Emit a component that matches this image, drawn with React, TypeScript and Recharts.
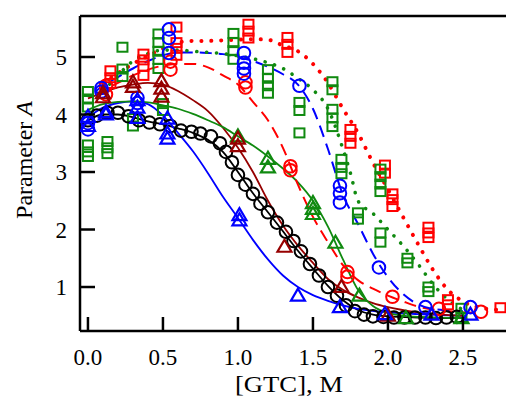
import React from 'react';
import { ComposedChart, Line, Scatter, XAxis, YAxis, ReferenceLine } from 'recharts';

// Axis ticks
const X_TICKS = [0, 0.5, 1.0, 1.5, 2.0, 2.5];
const Y_TICKS = [1, 2, 3, 4, 5];
const X_DOMAIN: [number, number] = [-0.053, 2.787];
const Y_DOMAIN: [number, number] = [0.235, 5.713];

// Black circles + fit
const BLK_CIRC_X = [0.0, 0.06, 0.13, 0.2, 0.27, 0.34, 0.41, 0.48, 0.55, 0.62, 0.69, 0.75, 0.82, 0.88, 0.92, 0.96, 1.0, 1.05, 1.1, 1.15, 1.2, 1.26, 1.32, 1.37, 1.42, 1.48, 1.54, 1.6, 1.66, 1.72, 1.78, 1.84, 1.9, 1.97, 2.04, 2.11, 2.18, 2.25, 2.32, 2.39, 2.46];
const BLK_CIRC_Y = [3.9, 3.98, 4.03, 4.03, 3.97, 3.9, 3.86, 3.83, 3.8, 3.72, 3.7, 3.67, 3.62, 3.5, 3.35, 3.17, 2.95, 2.78, 2.62, 2.45, 2.3, 2.12, 1.96, 1.8, 1.62, 1.4, 1.2, 1.0, 0.85, 0.68, 0.58, 0.52, 0.49, 0.48, 0.47, 0.47, 0.47, 0.47, 0.46, 0.47, 0.48];
const BLK_LINE_X = [0, 0.1, 0.2, 0.3, 0.4, 0.5, 0.6, 0.7, 0.8, 0.9, 1.0, 1.1, 1.2, 1.3, 1.4, 1.5, 1.6, 1.7, 1.8, 1.9, 2.0, 2.2, 2.5];
const BLK_LINE_Y = [3.9, 4.0, 4.0, 3.95, 3.88, 3.83, 3.76, 3.68, 3.56, 3.35, 3.0, 2.63, 2.3, 1.97, 1.63, 1.32, 1.02, 0.77, 0.6, 0.52, 0.49, 0.47, 0.46];

// Blue triangles + solid fit
const BLU_TRI_X = [0, 0, 0.12, 0.12, 0.33, 0.33, 0.33, 0.53, 0.53, 0.53, 1.01, 1.01, 1.4, 1.68, 1.98, 2.29, 2.55];
const BLU_TRI_Y = [3.96, 3.8, 4.04, 4.0, 4.25, 4.12, 3.94, 3.93, 3.67, 3.58, 2.25, 2.16, 0.85, 0.65, 0.53, 0.52, 0.52];
const BLU_LINE_X = [0, 0.1, 0.2, 0.3, 0.4, 0.5, 0.6, 0.7, 0.8, 0.9, 1.0, 1.1, 1.2, 1.3, 1.4, 1.5, 1.6, 1.7, 1.8, 2.0, 2.2, 2.5];
const BLU_LINE_Y = [3.95, 4.12, 4.2, 4.23, 4.18, 3.98, 3.68, 3.36, 2.98, 2.57, 2.2, 1.82, 1.48, 1.2, 1.0, 0.86, 0.76, 0.68, 0.62, 0.56, 0.53, 0.5];

// Dark red triangles + solid fit
const DRD_TRI_X = [0.1, 0.1, 0.3, 0.3, 0.49, 0.49, 0.49, 1.0, 1.0, 1.31, 1.69, 2.0];
const DRD_TRI_Y = [4.37, 4.3, 4.56, 4.48, 4.58, 4.45, 4.31, 3.58, 3.45, 1.7, 1.0, 0.5];
const DRD_LINE_X = [0, 0.1, 0.2, 0.3, 0.4, 0.5, 0.6, 0.7, 0.8, 0.9, 1.0, 1.1, 1.2, 1.3, 1.4, 1.5, 1.6, 1.7, 1.8, 1.9, 2.0, 2.2, 2.5];
const DRD_LINE_Y = [4.28, 4.38, 4.47, 4.52, 4.55, 4.52, 4.41, 4.25, 4.06, 3.77, 3.42, 3.0, 2.5, 2.07, 1.72, 1.42, 1.14, 0.95, 0.82, 0.72, 0.65, 0.56, 0.5];

// Green triangles + solid fit
const GRN_TRI_X = [1.0, 1.2, 1.2, 1.5, 1.5, 1.5, 1.65, 1.81, 2.12, 2.49];
const GRN_TRI_Y = [3.62, 3.23, 3.08, 2.46, 2.36, 2.27, 1.77, 0.85, 0.46, 0.46];
const GRN_LINE_X = [0, 0.1, 0.2, 0.3, 0.4, 0.5, 0.6, 0.7, 0.8, 0.9, 1.0, 1.1, 1.2, 1.3, 1.4, 1.5, 1.6, 1.7, 1.8, 1.9, 2.0, 2.2, 2.5];
const GRN_LINE_Y = [4.08, 4.18, 4.22, 4.23, 4.21, 4.16, 4.1, 4.01, 3.9, 3.78, 3.62, 3.46, 3.27, 3.06, 2.82, 2.5, 2.05, 1.48, 0.95, 0.67, 0.55, 0.48, 0.46];

// Red circles + dashed fit
const RED_CIRC_X = [0.12, 0.12, 0.55, 0.55, 1.05, 1.05, 1.35, 1.35, 1.73, 1.73, 2.03, 2.34, 2.62];
const RED_CIRC_Y = [4.35, 4.5, 4.78, 4.92, 4.56, 4.47, 3.1, 3.03, 1.26, 1.18, 0.83, 0.62, 0.57];
const RED_DASH_X = [0.05, 0.1, 0.2, 0.3, 0.4, 0.5, 0.6, 0.7, 0.8, 0.9, 1.0, 1.1, 1.2, 1.3, 1.4, 1.5, 1.6, 1.7, 1.8, 1.9, 2.0, 2.1, 2.2, 2.4, 2.6];
const RED_DASH_Y = [4.35, 4.42, 4.55, 4.68, 4.78, 4.85, 4.88, 4.88, 4.82, 4.68, 4.52, 4.22, 3.9, 3.42, 2.78, 2.22, 1.78, 1.38, 1.12, 0.97, 0.85, 0.75, 0.66, 0.58, 0.55];

// Blue circles + dashed fit
const BLU_CIRC_X = [0, 0, 0.09, 0.09, 0.33, 0.33, 0.54, 0.54, 0.54, 1.04, 1.04, 1.04, 1.04, 1.41, 1.68, 1.68, 1.68, 1.94, 2.25, 2.55];
const BLU_CIRC_Y = [3.85, 3.74, 4.46, 4.4, 4.29, 4.2, 5.48, 5.33, 5.07, 5.07, 4.9, 4.8, 4.71, 4.5, 2.76, 2.63, 2.47, 1.34, 0.65, 0.65];
const BLU_DASH_X = [0.05, 0.1, 0.2, 0.3, 0.4, 0.5, 0.6, 0.7, 0.8, 0.9, 1.0, 1.1, 1.2, 1.3, 1.4, 1.5, 1.6, 1.7, 1.8, 1.9, 2.0, 2.1, 2.2, 2.3, 2.5];
const BLU_DASH_Y = [4.4, 4.5, 4.65, 4.8, 4.93, 5.03, 5.08, 5.08, 5.07, 5.05, 5.0, 4.93, 4.83, 4.7, 4.52, 4.1, 3.4, 2.6, 2.1, 1.58, 1.17, 0.88, 0.7, 0.62, 0.58];

// Green squares + dotted fit
const GRN_SQ_X = [0, 0, 0, 0, 0, 0, 0.13, 0.13, 0.13, 0.23, 0.23, 0.23, 0.3, 0.3, 0.47, 0.47, 0.47, 0.47, 0.47, 0.5, 0.5, 0.97, 0.97, 0.97, 0.97, 1.2, 1.2, 1.2, 1.2, 1.41, 1.41, 1.41, 1.63, 1.63, 1.63, 1.63, 1.63, 1.69, 1.69, 1.69, 1.8, 1.8, 1.95, 1.95, 1.95, 1.95, 1.95, 1.95, 2.13, 2.13, 2.27, 2.27, 2.49, 2.49];
const GRN_SQ_Y = [4.4, 4.27, 4.13, 3.47, 3.35, 3.27, 3.53, 3.42, 3.32, 5.17, 4.79, 4.66, 3.93, 3.8, 5.4, 5.25, 5.1, 4.96, 4.8, 4.19, 4.07, 5.41, 5.25, 5.11, 4.96, 4.78, 4.63, 4.5, 4.37, 4.21, 4.07, 3.68, 4.57, 4.43, 4.09, 3.94, 3.79, 3.22, 3.08, 2.97, 2.29, 2.18, 3.05, 2.92, 2.79, 2.66, 1.94, 1.78, 1.5, 1.42, 1.0, 0.92, 0.63, 0.47];
const GRN_DOT_X = [0.1, 0.2, 0.3, 0.4, 0.5, 0.6, 0.7, 0.8, 0.9, 1.0, 1.1, 1.2, 1.3, 1.4, 1.5, 1.6, 1.7, 1.75, 1.8, 1.9, 2.0, 2.1, 2.2, 2.3, 2.4, 2.5];
const GRN_DOT_Y = [4.4, 4.68, 4.93, 5.06, 5.12, 5.12, 5.1, 5.08, 5.06, 5.02, 4.97, 4.9, 4.8, 4.63, 4.43, 4.1, 3.4, 2.98, 2.5, 2.28, 2.0, 1.72, 1.4, 1.05, 0.78, 0.6];

// Red squares + dotted fit
const RED_SQ_X = [0.15, 0.15, 0.15, 0.37, 0.37, 0.37, 0.37, 0.59, 0.59, 0.59, 0.59, 1.07, 1.07, 1.07, 1.33, 1.33, 1.33, 1.75, 1.75, 1.75, 1.98, 1.98, 2.03, 2.03, 2.03, 2.27, 2.27, 2.27, 2.4, 2.4, 2.75];
const RED_SQ_Y = [4.76, 4.64, 4.54, 5.05, 4.95, 4.84, 4.68, 5.52, 5.25, 5.15, 5.03, 5.57, 5.45, 5.33, 5.34, 5.22, 5.08, 3.74, 3.62, 3.5, 3.12, 2.98, 2.62, 2.52, 2.4, 2.04, 1.94, 1.86, 0.78, 0.69, 0.64];
const RED_DOT_X = [0.1, 0.2, 0.3, 0.4, 0.5, 0.6, 0.7, 0.8, 0.9, 1.0, 1.1, 1.2, 1.3, 1.4, 1.5, 1.6, 1.7, 1.8, 1.9, 2.0, 2.1, 2.2, 2.3, 2.4, 2.5, 2.6, 2.75];
const RED_DOT_Y = [4.55, 4.72, 4.88, 5.02, 5.15, 5.25, 5.28, 5.28, 5.29, 5.3, 5.31, 5.3, 5.2, 5.1, 4.88, 4.55, 4.1, 3.68, 3.16, 2.7, 2.22, 1.75, 1.3, 0.95, 0.75, 0.65, 0.6];

const zip = (xs: number[], ys: number[]) => xs.map((x, i) => ({ x, y: ys[i] }));

const C_BLACK = '#000000';
const C_BLUE = '#0000ff';
const C_RED = '#ff0000';
const C_GREEN = '#108a10';
const C_DRED = '#960000';
const FONT = '"Liberation Serif", "Times New Roman", serif';

const circleShape = (color: string) => (p: any) => (
  <circle cx={p.cx} cy={p.cy} r={6.3} fill="none" stroke={color} strokeWidth={2} />
);
const triShape = (color: string) => (p: any) => (
  <polygon
    points={`${p.cx},${p.cy - 7} ${p.cx - 7},${p.cy + 5} ${p.cx + 7},${p.cy + 5}`}
    fill="none"
    stroke={color}
    strokeWidth={2.2}
    strokeLinejoin="miter"
  />
);
const sqShape = (color: string) => (p: any) => (
  <rect x={p.cx - 5} y={p.cy - 4.5} width={10} height={9} fill="none" stroke={color} strokeWidth={2} />
);

const XTick = (props: any) => {
  const { x, y, payload } = props;
  return (
    <g>
      <line x1={x} y1={y} x2={x} y2={y - 14} stroke="#000" strokeWidth={2.5} />
      <text x={x} y={y + 34} textAnchor="middle" fontSize={23} fontFamily={FONT} fill="#000">
        {Number(payload.value).toFixed(1)}
      </text>
    </g>
  );
};

const YTick = (props: any) => {
  const { x, y, payload } = props;
  return (
    <g>
      <line x1={x} y1={y} x2={x + 15} y2={y} stroke="#000" strokeWidth={2.5} />
      <text x={x - 13} y={y + 8} textAnchor="end" fontSize={23} fontFamily={FONT} fill="#000">
        {String(payload.value)}
      </text>
    </g>
  );
};

const XLabel = () => (
  <text x={289} y={392} textAnchor="middle" fontSize={23} fontFamily={FONT} fill="#000" textLength={108} lengthAdjust="spacingAndGlyphs">
    [GTC], M
  </text>
);

const YLabel = () => (
  <text
    x={32}
    y={160}
    transform="rotate(-90, 32, 160)"
    textAnchor="middle"
    fontSize={24}
    fontFamily={FONT}
    fill="#000"
  >
    {'Parameter\u00a0'}
    <tspan fontStyle="italic">A</tspan>
  </text>
);

const lineProps = {
  dataKey: 'y',
  type: 'monotone' as const,
  dot: false,
  activeDot: false,
  isAnimationActive: false,
  legendType: 'none' as const,
};

export default function App() {
  return (
    <div style={{ position: 'absolute', left: 0, top: 0, width: 506, height: 398, overflow: 'hidden', background: '#fff' }}>
      <ComposedChart width={506} height={398} margin={{ top: 16, right: 0, bottom: 0, left: 0 }}>
        <XAxis
          type="number"
          dataKey="x"
          domain={X_DOMAIN}
          allowDataOverflow
          ticks={X_TICKS}
          interval={0}
          tickSize={0}
          tickMargin={0}
          tickLine={false}
          tick={<XTick />}
          height={67}
          axisLine={{ stroke: '#000', strokeWidth: 2.5 }}
          label={<XLabel />}
        />
        <YAxis
          type="number"
          dataKey="y"
          domain={Y_DOMAIN}
          allowDataOverflow
          ticks={Y_TICKS}
          interval={0}
          tickSize={0}
          tickMargin={0}
          tickLine={false}
          tick={<YTick />}
          width={80}
          axisLine={{ stroke: '#000', strokeWidth: 2.5 }}
          label={<YLabel />}
        />
        <ReferenceLine y={Y_DOMAIN[1]} stroke="#000" strokeWidth={2.5} />

        <Line {...lineProps} data={zip(BLK_LINE_X, BLK_LINE_Y)} stroke={C_BLACK} strokeWidth={1.8} />
        <Line {...lineProps} data={zip(BLU_LINE_X, BLU_LINE_Y)} stroke={C_BLUE} strokeWidth={1.8} />
        <Line {...lineProps} data={zip(DRD_LINE_X, DRD_LINE_Y)} stroke={C_DRED} strokeWidth={1.8} />
        <Line {...lineProps} data={zip(GRN_LINE_X, GRN_LINE_Y)} stroke={C_GREEN} strokeWidth={1.8} />
        <Line {...lineProps} data={zip(RED_DASH_X, RED_DASH_Y)} stroke={C_RED} strokeWidth={2} strokeDasharray="12 7" />
        <Line {...lineProps} data={zip(BLU_DASH_X, BLU_DASH_Y)} stroke={C_BLUE} strokeWidth={2} strokeDasharray="12 7" />
        <Line {...lineProps} data={zip(GRN_DOT_X, GRN_DOT_Y)} stroke={C_GREEN} strokeWidth={3.6} strokeDasharray="0.1 9.8" strokeLinecap="round" />
        <Line {...lineProps} data={zip(RED_DOT_X, RED_DOT_Y)} stroke={C_RED} strokeWidth={4} strokeDasharray="0.1 9.8" strokeLinecap="round" />

        <Scatter data={zip(RED_SQ_X, RED_SQ_Y)} dataKey="y" shape={sqShape(C_RED)} isAnimationActive={false} />
        <Scatter data={zip(GRN_SQ_X, GRN_SQ_Y)} dataKey="y" shape={sqShape(C_GREEN)} isAnimationActive={false} />
        <Scatter data={zip(BLK_CIRC_X, BLK_CIRC_Y)} dataKey="y" shape={circleShape(C_BLACK)} isAnimationActive={false} />
        <Scatter data={zip(RED_CIRC_X, RED_CIRC_Y)} dataKey="y" shape={circleShape(C_RED)} isAnimationActive={false} />
        <Scatter data={zip(BLU_CIRC_X, BLU_CIRC_Y)} dataKey="y" shape={circleShape(C_BLUE)} isAnimationActive={false} />
        <Scatter data={zip(GRN_TRI_X, GRN_TRI_Y)} dataKey="y" shape={triShape(C_GREEN)} isAnimationActive={false} />
        <Scatter data={zip(DRD_TRI_X, DRD_TRI_Y)} dataKey="y" shape={triShape(C_DRED)} isAnimationActive={false} />
        <Scatter data={zip(BLU_TRI_X, BLU_TRI_Y)} dataKey="y" shape={triShape(C_BLUE)} isAnimationActive={false} />
      </ComposedChart>
    </div>
  );
}
